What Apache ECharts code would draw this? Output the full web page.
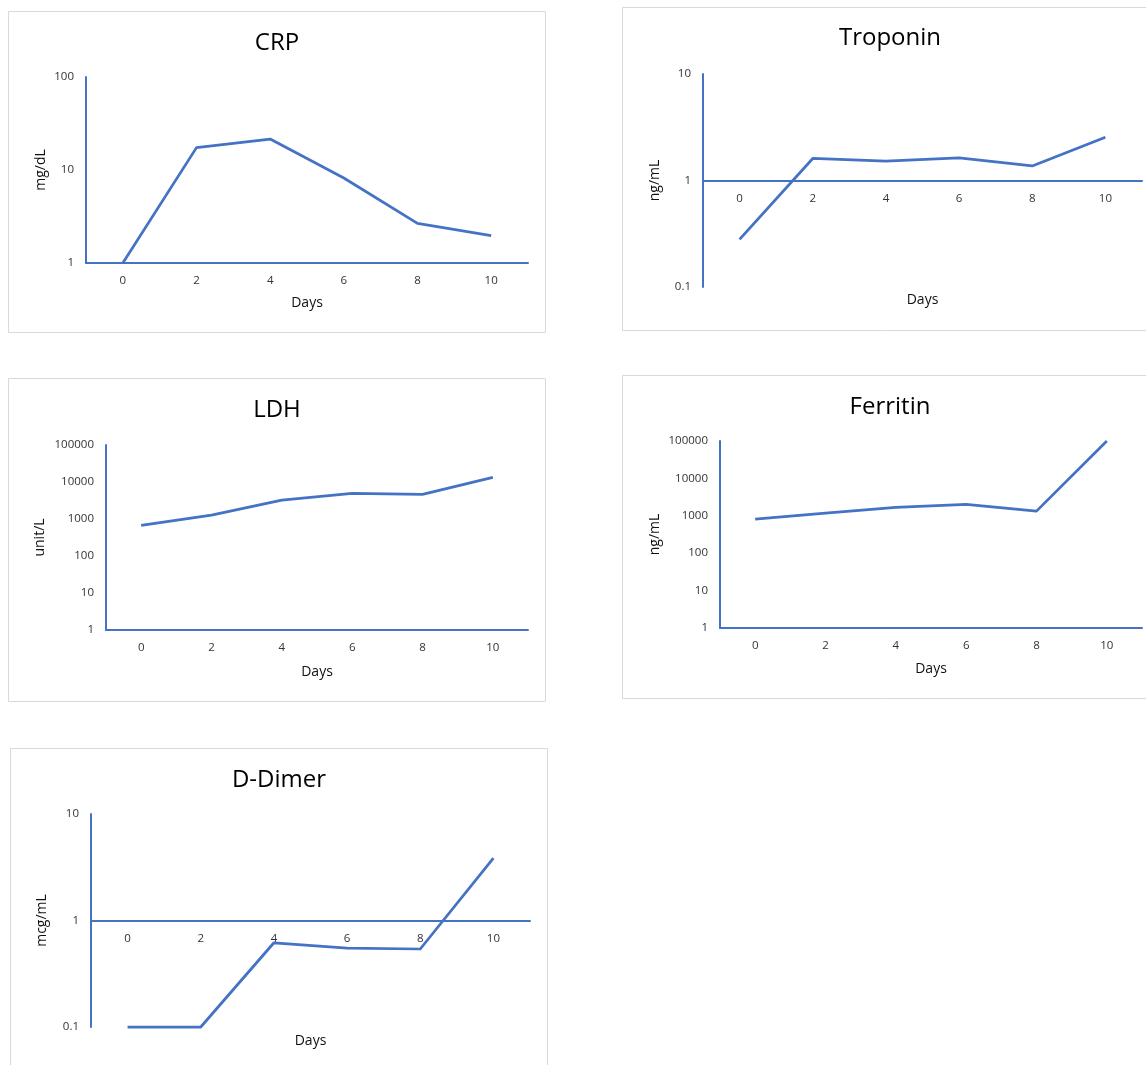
<!DOCTYPE html>
<html><head><meta charset="utf-8">
<script src="https://cdn.jsdelivr.net/npm/echarts@6/dist/echarts.min.js"></script>
<style>html,body{margin:0;padding:0;background:#fff}#c{width:1146px;height:1065px}</style>
</head><body><div id="c"></div>
<script>
// ---- data ----
const days = ['0', '2', '4', '6', '8', '10'];
const crp = [1.0, 17.4, 21.5, 8.2, 2.67, 1.97];
const troponin = [0.28, 1.61, 1.52, 1.63, 1.37, 2.55];
const ldh = [676, 1280, 3250, 4900, 4630, 13300];
const ferritin = [816, 1180, 1675, 2015, 1335, 100000];
const dDimer = [0.1, 0.1, 0.618, 0.551, 0.54, 3.85];
const titles = ['CRP', 'Troponin', 'LDH', 'Ferritin', 'D-Dimer'];
const units = ['mg/dL', 'ng/mL', 'unit/L', 'ng/mL', 'mcg/mL'];
const yMins = [1, 0.1, 1, 1, 0.1];
const yMaxs = [100, 10, 100000, 100000, 10];
const xCross = [1, 1, 1, 1, 1];
const xName = 'Days';
const seriesData = [crp, troponin, ldh, ferritin, dDimer];

// ---- layout (positions/styles only) ----
const layout = [
  { box: [8, 11, 537, 321], grid: [86, 77, 442, 186], title: [277, 31], nameGap: 33, yNameGap: 38 },
  { box: [622, 7, 530, 323], grid: [703, 74, 439, 213], title: [890, 26], nameGap: 113, yNameGap: 41 },
  { box: [8, 378, 537, 323], grid: [106, 445, 422, 185], title: [277, 398], nameGap: 35, yNameGap: 59 },
  { box: [622, 375, 530, 323], grid: [720, 441, 422, 187], title: [890, 395], nameGap: 34, yNameGap: 58 },
  { box: [10, 748, 537, 330], grid: [91, 814, 439, 213], title: [279, 768], nameGap: 114, yNameGap: 42 }
];

const BLUE = '#4472C4';
const FONT = 'Open Sans';
const chart = echarts.init(document.getElementById('c'), null, { renderer: 'canvas' });

const grids = [], xAxes = [], yAxes = [], series = [], titleOpts = [], graphics = [];
layout.forEach((L, i) => {
  graphics.push({
    type: 'rect', silent: true, z: -10,
    shape: { x: L.box[0] + 0.5, y: L.box[1] + 0.5, width: L.box[2], height: L.box[3] },
    style: { fill: '#fff', stroke: '#d9d9d9', lineWidth: 1 }
  });
  titleOpts.push({
    text: titles[i], left: L.title[0], top: L.title[1], textAlign: 'center', padding: 0,
    textStyle: { fontFamily: FONT, fontSize: 24, fontWeight: 'normal', color: '#000' }
  });
  grids.push({ left: L.grid[0], top: L.grid[1], width: L.grid[2], height: L.grid[3], containLabel: false });
  const lmin = Math.log10(yMins[i]), lmax = Math.log10(yMaxs[i]);
  const frac = (Math.log10(xCross[i]) - lmin) / (lmax - lmin);
  xAxes.push({
    type: 'category', gridIndex: i, data: days, boundaryGap: true,
    position: 'bottom', offset: -L.grid[3] * frac,
    axisLine: { onZero: false, lineStyle: { color: BLUE, width: 2 } },
    axisTick: { show: false },
    axisLabel: { margin: 12, fontFamily: FONT, fontSize: 11.5, color: '#333' },
    splitLine: { show: false },
    name: xName, nameLocation: 'middle', nameGap: L.nameGap,
    nameTextStyle: { fontFamily: FONT, fontSize: 14, color: '#111' }
  });
  yAxes.push({
    type: 'log', logBase: 10, gridIndex: i, min: yMins[i], max: yMaxs[i],
    axisLine: { show: true, lineStyle: { color: BLUE, width: 2 } },
    axisTick: { show: false },
    splitLine: { show: false },
    axisLabel: {
      margin: 12, fontFamily: FONT, fontSize: 11.5, color: '#333',
      formatter: v => String(+Number(v).toPrecision(6))
    },
    name: units[i], nameLocation: 'middle', nameGap: L.yNameGap, nameRotate: 90,
    nameTextStyle: { fontFamily: FONT, fontSize: 14, color: '#111' }
  });
  series.push({
    type: 'line', xAxisIndex: i, yAxisIndex: i, data: seriesData[i],
    showSymbol: false, symbol: 'none', clip: false, animation: false,
    lineStyle: { color: BLUE, width: 2.75, join: 'round', cap: 'butt' },
    itemStyle: { color: BLUE }
  });
});

chart.setOption({
  backgroundColor: '#fff',
  animation: false,
  title: titleOpts,
  grid: grids,
  xAxis: xAxes,
  yAxis: yAxes,
  series: series,
  graphic: graphics
});
</script></body></html>
